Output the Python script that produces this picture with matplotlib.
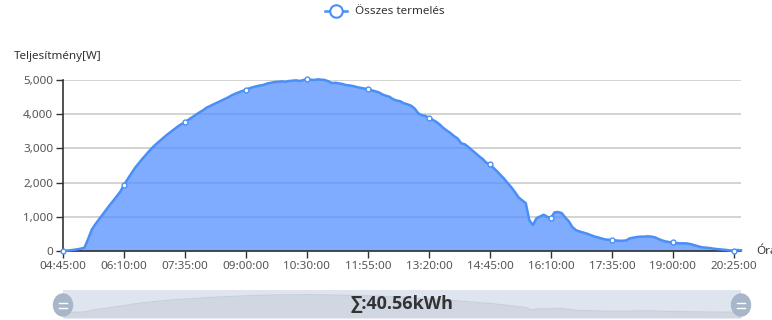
import matplotlib
matplotlib.use("Agg")
import matplotlib.pyplot as plt
from matplotlib.patches import Ellipse
from matplotlib.lines import Line2D

plt.rcParams['font.family'] = ['Noto Sans', 'DejaVu Sans']

# ---------------- data ----------------
power_w = [
    0, 10, 20, 35, 50, 70, 100, 350, 620, 780,
    920, 1060, 1200, 1340, 1470, 1600, 1740, 1930, 2100, 2260,
    2420, 2550, 2680, 2800, 2920, 3030, 3130, 3220, 3310, 3400,
    3480, 3560, 3640, 3710, 3760, 3840, 3910, 3980, 4050, 4110,
    4190, 4240, 4290, 4340, 4390, 4440, 4490, 4550, 4600, 4640,
    4680, 4710, 4760, 4790, 4820, 4840, 4860, 4900, 4920, 4940,
    4950, 4960, 4950, 4970, 4980, 4990, 4970, 5000, 5020, 5010,
    5000, 5020, 5010, 5000, 4960, 4910, 4920, 4900, 4880, 4850,
    4840, 4820, 4790, 4770, 4750, 4740, 4700, 4670, 4640, 4580,
    4540, 4510, 4440, 4400, 4380, 4320, 4290, 4250, 4170, 4030,
    3970, 3950, 3890, 3840, 3780, 3700, 3600, 3520, 3450, 3360,
    3290, 3150, 3120, 3040, 2950, 2860, 2770, 2690, 2580, 2540,
    2430, 2330, 2220, 2110, 1980, 1860, 1720, 1570, 1480, 1400,
    900, 760, 960, 1010, 1060, 1000, 960, 1130, 1140, 1110,
    980, 870, 700, 610, 570, 540, 510, 470, 430, 400,
    370, 340, 330, 320, 310, 300, 300, 310, 370, 390,
    410, 420, 420, 430, 420, 400, 350, 310, 280, 260,
    250, 230, 225, 225, 220, 200, 170, 140, 110, 100,
    90, 75, 60, 50, 40, 30, 15, 10, 30, 20,
]
tick_labels = ['04:45:00', '06:10:00', '07:35:00', '09:00:00', '10:30:00', '11:55:00',
               '13:20:00', '14:45:00', '16:10:00', '17:35:00', '19:00:00', '20:25:00']
y_ticks = [0, 1000, 2000, 3000, 4000, 5000]
y_tick_labels = ['0', '1,000', '2,000', '3,000', '4,000', '5,000']
series_name = 'Összes termelés'
y_title = 'Teljesítmény[W]'
x_title = 'Óra'
total_label = '∑:40.56kWh'
label_step = 17

# ---------------- figure ----------------
W, H = 772, 320
fig = plt.figure(figsize=(W / 100, H / 100), dpi=100)
ax = fig.add_axes([63 / W, 1 - 251 / H, (741 - 63) / W, (251 - 80) / H])

x = list(range(len(power_w)))
line_c = '#4a8ff7'
fill_c = (0.33, 0.57, 1.0)

ax.set_xlim(0, len(power_w) - 1)
ax.set_ylim(0, 5000)
ax.set_yticks(y_ticks)
ax.set_yticklabels(y_tick_labels)
tick_pos = list(range(0, len(power_w), label_step))[:len(tick_labels)]
ax.set_xticks(tick_pos)
ax.set_xticklabels(tick_labels)

ax.grid(axis='y', color='#cccccc', linewidth=1.2, zorder=0)
ax.set_axisbelow(True)
for s in ['top', 'right']:
    ax.spines[s].set_visible(False)
for s in ['left', 'bottom']:
    ax.spines[s].set_color('#333333')
    ax.spines[s].set_linewidth(1.2)
ax.tick_params(axis='both', colors='#333333', labelcolor='#555555', labelsize=8.4,
               length=5, width=1)
ax.tick_params(axis='x', pad=2)
ax.tick_params(axis='y', pad=2)

ax.fill_between(x, power_w, 0, color=fill_c, alpha=0.75, linewidth=0, zorder=2, clip_on=False)
ax.plot(x, power_w, color=line_c, linewidth=1.8, zorder=3, clip_on=False,
        marker='o', markevery=tick_pos, markersize=3.5, markerfacecolor='white',
        markeredgecolor=line_c, markeredgewidth=1)

fig.text(14 / W, 1 - 57 / H, y_title, ha='left', va='center', fontsize=8.4, color='#333333')
fig.text(756 / W, 1 - 251 / H, x_title, ha='left', va='center', fontsize=8.4, color='#333333')

# legend
leg_y = 1 - 11 / H
fig.add_artist(Line2D([325 / W, 347 / W], [leg_y, leg_y], color=line_c, linewidth=1.8))
fig.add_artist(Line2D([336 / W], [leg_y], marker='o', markersize=9, markerfacecolor='white',
                      markeredgecolor=line_c, markeredgewidth=1.5, linestyle='none'))
fig.text(355 / W, leg_y, series_name, ha='left', va='center', fontsize=8.4, color='#333333')

# data-zoom slider
sax = fig.add_axes([63 / W, 1 - 318 / H, (741 - 63) / W, 28 / H])
sax.set_facecolor('#dfe5ee')
sax.fill_between(x, power_w, -1600, color='#d0d7e2', linewidth=0)
sax.plot(x, power_w, color='#c6ceda', linewidth=0.8)
sax.set_xlim(0, len(power_w) - 1)
sax.set_ylim(-1600, 6350)
sax.set_xticks([])
sax.set_yticks([])
for s in sax.spines.values():
    s.set_visible(False)
sax.text(0.5, 0.5, total_label, transform=sax.transAxes, ha='center', va='center',
         fontsize=13, fontweight='bold', color='#333333',
         family=['Open Sans', 'DejaVu Sans'])

for hx in (63, 741):
    fig.add_artist(Ellipse((hx / W, 1 - 305 / H), 19 / W, 22 / H, color='#a8b6ca', zorder=5))
    for dy in (-2.5, 2.5):
        fig.add_artist(Line2D([(hx - 4) / W, (hx + 4) / W], [1 - (305 + dy) / H] * 2,
                              color='white', linewidth=1, zorder=6))

fig.savefig('out.png', dpi=100)
